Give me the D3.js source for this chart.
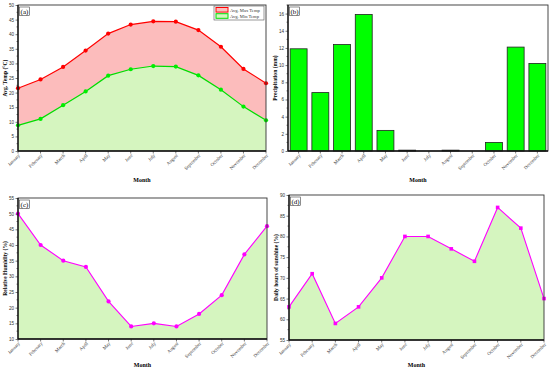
<!DOCTYPE html>
<html><head><meta charset="utf-8">
<script src="https://cdn.jsdelivr.net/npm/d3@7"></script>
<style>body{margin:0;background:#fff}svg{display:block;font-family:"Liberation Serif","Times New Roman",serif}</style>
</head><body><svg id="c" width="550" height="370"></svg>
<script>
const months = ["January","February","March","April","May","June","July","August","September","October","November","December"];
const maxTemp = [21.5,24.5,28.8,34.4,40.2,43.3,44.4,44.3,41.4,35.7,28.1,23.2];
const minTemp = [8.8,11.0,15.7,20.4,25.8,28.0,29.1,28.9,25.9,21.0,15.2,10.5];
const precip = [11.9,6.8,12.4,15.9,2.4,0.1,0,0.1,0,1.0,12.1,10.2];
const humidity = [50,40,35,33,22,14,15,14,18,24,37,46];
const sunshine = [63,71,59,63,70,80,80,77,74,87,82,65];
const tempTicks = [0,5,10,15,20,25,30,35,40,45,50];
const precTicks = [0,2,4,6,8,10,12,14,16];
const humTicks = [10,15,20,25,30,35,40,45,50,55];
const sunTicks = [55,60,65,70,75,80,85,90];

const svg = d3.select("#c");

function frame(g, L, R, T, B, yScale, ticks, minorStep, x, yLabel, tag, tickPos, monthY){
  const ya = d3.axisLeft(yScale).tickValues(ticks).tickSize(2.5).tickPadding(1.5).tickFormat(d3.format("d"));
  const yg = g.append("g").attr("transform",`translate(${L},0)`).call(ya);
  const [d0,d1] = yScale.domain();
  const minors = d3.range(Math.ceil(d0/minorStep)*minorStep, d1+1e-9, minorStep).filter(v=>!ticks.some(t=>Math.abs(t-v)<1e-9));
  g.append("g").selectAll("line").data(minors).join("line")
    .attr("x1",L-1.5).attr("x2",L).attr("y1",d=>yScale(d)).attr("y2",d=>yScale(d)).attr("stroke","#222").attr("stroke-width",0.6);
  yg.select(".domain").remove();
  yg.selectAll("line").attr("stroke","#222").attr("stroke-width",0.6);
  yg.selectAll("text").attr("font-size",4.6).attr("fill","#333");
  const xg = g.append("g");
  xg.selectAll("line").data(months).join("line")
    .attr("x1",tickPos).attr("x2",tickPos).attr("y1",B).attr("y2",B+2.5).attr("stroke","#222").attr("stroke-width",0.6);
  xg.selectAll("text").data(months).join("text")
    .attr("transform",(d,i)=>`translate(${tickPos(d,i)+1.5},${B+4}) rotate(-45)`)
    .attr("text-anchor","end").attr("dominant-baseline","middle").attr("font-size",4.8).attr("fill","#333").text(d=>d);
  g.append("rect").attr("x",L).attr("y",T).attr("width",R-L).attr("height",B-T)
    .attr("fill","none").attr("stroke","#333").attr("stroke-width",0.9);
  g.append("line").attr("x1",L).attr("x2",L).attr("y1",T).attr("y2",B).attr("stroke","#111").attr("stroke-width",1.3);
  g.append("line").attr("x1",L).attr("x2",R).attr("y1",B).attr("y2",B).attr("stroke","#111").attr("stroke-width",1.3);
  g.append("text").attr("x",(L+R)/2).attr("y",monthY).attr("text-anchor","middle").attr("font-size",6).attr("font-weight","bold").text("Month");
  g.append("text").attr("transform",`translate(${L-11},${(T+B)/2}) rotate(-90)`).attr("text-anchor","middle")
    .attr("font-size",5.6).attr("font-weight","bold").text(yLabel);
  const tg = g.append("g");
  tg.append("rect").attr("x",L+1.5).attr("y",T+2).attr("width",10).attr("height",8.5).attr("fill","#fff").attr("stroke","#444").attr("stroke-width",0.6);
  tg.append("text").attr("x",L+6.5).attr("y",T+8.8).attr("text-anchor","middle").attr("font-size",7).text(tag);
}

// Panel a
(function(){
  const L=18,R=266,T=5,B=151;
  const g = svg.append("g");
  const x = d3.scalePoint().domain(months).range([L,R]);
  const y = d3.scaleLinear().domain([0,50]).range([B,T]);
  g.append("path").datum(months).attr("fill","#fcbcbc")
    .attr("d",d3.area().x(d=>x(d)).y0(B).y1((d,i)=>y(maxTemp[i])));
  g.append("path").datum(months).attr("fill","#d5f5bf")
    .attr("d",d3.area().x(d=>x(d)).y0(B).y1((d,i)=>y(minTemp[i])));
  g.append("path").datum(months).attr("fill","none").attr("stroke","#ff0000").attr("stroke-width",1.2)
    .attr("d",d3.line().x(d=>x(d)).y((d,i)=>y(maxTemp[i])));
  g.append("path").datum(months).attr("fill","none").attr("stroke","#00dd00").attr("stroke-width",1.2)
    .attr("d",d3.line().x(d=>x(d)).y((d,i)=>y(minTemp[i])));
  g.selectAll(".mx").data(months).join("circle").attr("cx",d=>x(d)).attr("cy",(d,i)=>y(maxTemp[i])).attr("r",2.1).attr("fill","#ff0000");
  g.selectAll(".mn").data(months).join("circle").attr("class","mn").attr("cx",d=>x(d)).attr("cy",(d,i)=>y(minTemp[i])).attr("r",2.1).attr("fill","#00ee00");
  frame(g,L,R,T,B,y,tempTicks,2.5,x,"Avg. Temp (°C)","(a)",d=>x(d),182);
  const lg = g.append("g");
  lg.append("rect").attr("x",214).attr("y",6).attr("width",50).attr("height",14).attr("fill","#fff").attr("stroke","#555").attr("stroke-width",0.6);
  const items=[["Avg. Max Temp","#fcbcbc","#ff0000"],["Avg. Min Temp","#d5f5bf","#00dd00"]];
  items.forEach((it,i)=>{
    lg.append("rect").attr("x",216).attr("y",7.5+i*6.2).attr("width",12).attr("height",4.6).attr("fill",it[1]).attr("stroke",it[2]).attr("stroke-width",1);
    lg.append("text").attr("x",230).attr("y",11.5+i*6.2).attr("font-size",4.6).attr("fill","#333").text(it[0]);
  });
})();

// Panel b
(function(){
  const L=288,R=548,T=5,B=151;
  const g = svg.append("g");
  const x = d3.scaleBand().domain(months).range([L,R]).paddingInner(0.22).paddingOuter(0.1);
  const y = d3.scaleLinear().domain([0,17]).range([B,T]);
  g.selectAll("rect.bar").data(months).join("rect").attr("class","bar")
    .attr("x",d=>x(d)).attr("width",x.bandwidth())
    .attr("y",(d,i)=>y(precip[i])).attr("height",(d,i)=>B-y(precip[i]))
    .attr("fill","#00ff00").attr("stroke","#222").attr("stroke-width",0.8);
  frame(g,L,R,T,B,y,precTicks,1,x,"Precipitation (mm)","(b)",d=>x(d)+x.bandwidth()/2,182);
})();

// Panel c
(function(){
  const L=18,R=267,T=198,B=339;
  const g = svg.append("g");
  const x = d3.scalePoint().domain(months).range([L,R]);
  const y = d3.scaleLinear().domain([10,55]).range([B,T]);
  g.append("path").datum(months).attr("fill","#d5f5bf")
    .attr("d",d3.area().x(d=>x(d)).y0(B).y1((d,i)=>y(humidity[i])));
  g.append("path").datum(months).attr("fill","none").attr("stroke","#ff00ff").attr("stroke-width",1.1)
    .attr("d",d3.line().x(d=>x(d)).y((d,i)=>y(humidity[i])));
  g.selectAll("circle").data(months).join("circle").attr("cx",d=>x(d)).attr("cy",(d,i)=>y(humidity[i])).attr("r",2.1).attr("fill","#ff00ff");
  frame(g,L,R,T,B,y,humTicks,2.5,x,"Relative Humidity (%)","(c)",d=>x(d),367);
})();

// Panel d
(function(){
  const L=289,R=544,T=195,B=340;
  const g = svg.append("g");
  const x = d3.scalePoint().domain(months).range([L,R]);
  const y = d3.scaleLinear().domain([55,90]).range([B,T]);
  g.append("path").datum(months).attr("fill","#d5f5bf")
    .attr("d",d3.area().x(d=>x(d)).y0(B).y1((d,i)=>y(sunshine[i])));
  g.append("path").datum(months).attr("fill","none").attr("stroke","#ff00ff").attr("stroke-width",1.1)
    .attr("d",d3.line().x(d=>x(d)).y((d,i)=>y(sunshine[i])));
  g.selectAll("rect.m").data(months).join("rect").attr("class","m").attr("x",d=>x(d)-1.8).attr("y",(d,i)=>y(sunshine[i])-1.8)
    .attr("width",3.6).attr("height",3.6).attr("fill","#ff00ff");
  frame(g,L,R,T,B,y,sunTicks,2.5,x,"Daily hours of sunshine (%)","(d)",d=>x(d),367);
})();
</script></body></html>
